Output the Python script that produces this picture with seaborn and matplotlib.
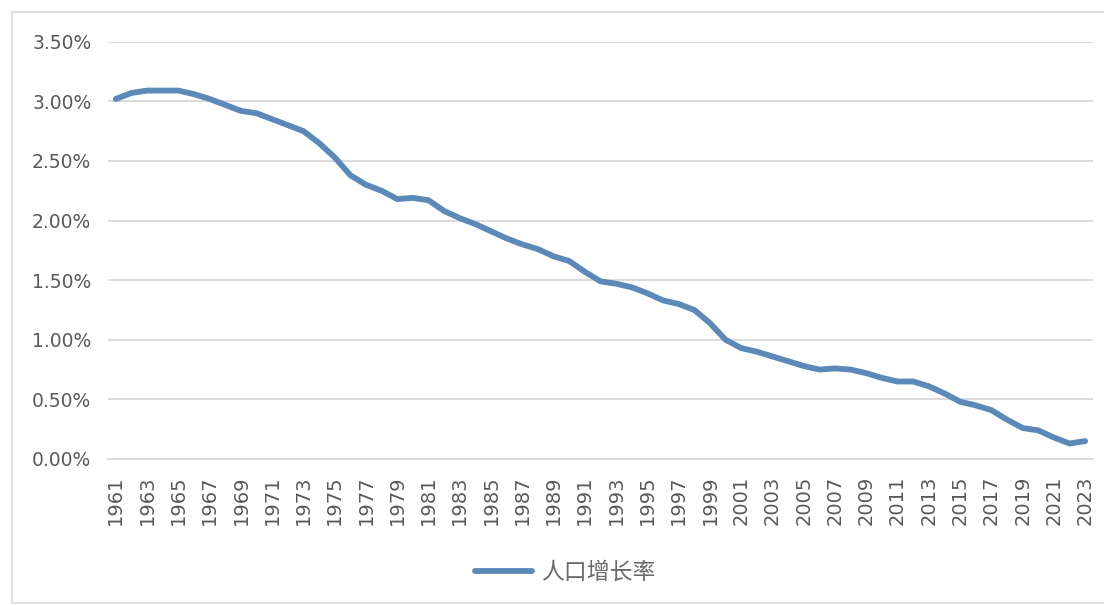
import matplotlib
matplotlib.use("Agg")
import matplotlib.pyplot as plt
import seaborn as sns
import pandas as pd
from matplotlib.lines import Line2D
from matplotlib.ticker import FuncFormatter, MultipleLocator

years = list(range(1961, 2024))
growth_rate = [
    3.02, 3.07, 3.09, 3.09, 3.09, 3.06, 3.02, 2.97, 2.92, 2.90,
    2.85, 2.80, 2.75, 2.65, 2.53, 2.38, 2.30, 2.25, 2.18, 2.19,
    2.17, 2.08, 2.02, 1.97, 1.91, 1.85, 1.80, 1.76, 1.70, 1.66,
    1.57, 1.49, 1.47, 1.44, 1.39, 1.33, 1.30, 1.25, 1.14, 1.00,
    0.93, 0.90, 0.86, 0.82, 0.78, 0.75, 0.76, 0.75, 0.72, 0.68,
    0.65, 0.65, 0.61, 0.55, 0.48, 0.45, 0.41, 0.33, 0.26, 0.24,
    0.18, 0.13, 0.15,
]
series_name = "人口增长率"
tick_years = years[::2]

sns.set_theme(style="white")
plt.rcParams["font.family"] = ["DejaVu Sans", "Noto Sans CJK SC"]

df = pd.DataFrame({"year": years, "rate": growth_rate, "series": series_name})

fig = plt.figure(figsize=(11.04, 6.05), dpi=100)
ax = fig.add_axes([108 / 1104, 1 - 459 / 605, (1093 - 108) / 1104, (459 - 41.7) / 605])

line_color = "#5B89B8"
sns.lineplot(data=df, x="year", y="rate", hue="series", palette=[line_color],
             linewidth=4.2, ax=ax, legend=False, solid_capstyle="round")

ax.set_xlim(1960.5, 2023.5)
ax.set_ylim(0, 3.5)
ax.yaxis.set_major_locator(MultipleLocator(0.5))
ax.yaxis.set_major_formatter(FuncFormatter(lambda v, p: f"{v:.2f}%"))
ax.set_xticks(tick_years)
ax.set_xticklabels([str(y) for y in tick_years], rotation=90)
ax.set_xlabel("")
ax.set_ylabel("")

ax.grid(axis="y", color="#d9d9d9", linewidth=1.3)
ax.grid(axis="x", visible=False)
for s in ["top", "right", "left"]:
    ax.spines[s].set_visible(False)
ax.spines["bottom"].set_color("#d9d9d9")
ax.spines["bottom"].set_linewidth(1.3)

ax.tick_params(axis="y", length=0, pad=12, labelsize=13.5, labelcolor="#595959")
ax.tick_params(axis="x", length=0, pad=12, labelsize=14, labelcolor="#595959")

handle = Line2D([0], [0], color=line_color, linewidth=4.2)
leg = fig.legend([handle], [series_name], loc="center",
                 bbox_to_anchor=(0.512, 0.0545), frameon=False,
                 handlelength=2.5, handletextpad=0.4,
                 prop={"family": ["Noto Sans CJK SC", "DejaVu Sans"], "size": 16.5})
for t in leg.get_texts():
    t.set_color("#6a6a6a")

# outer chart frame (top, left, bottom edges visible)
fx0, fy0, fy1 = 12 / 1104, 2.3 / 605, 1 - 11.7 / 605
frame = Line2D([1.01, fx0, fx0, 1.01], [fy1, fy1, fy0, fy0],
               transform=fig.transFigure, color="#d9d9d9", linewidth=1.2)
fig.lines.append(frame)

fig.savefig("out.png", dpi=100)
